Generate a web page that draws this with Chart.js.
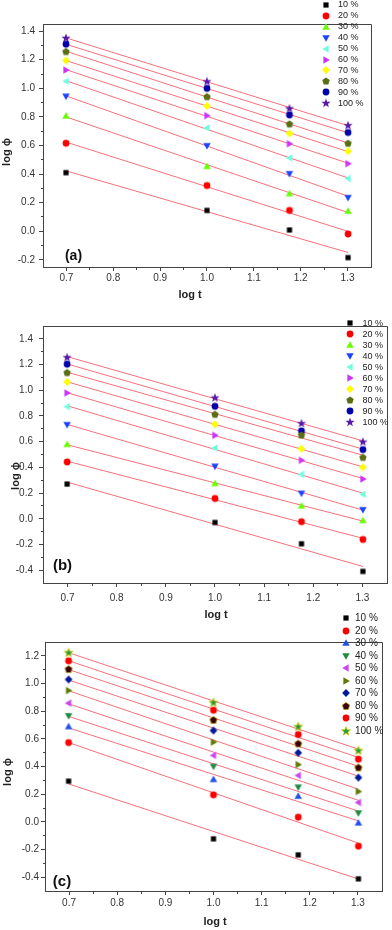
<!DOCTYPE html>
<html><head><meta charset="utf-8">
<script src="https://cdn.jsdelivr.net/npm/chart.js@4.4.1/dist/chart.umd.min.js"></script>
<style>
html,body{margin:0;padding:0;background:#fff;width:392px;height:930px;overflow:hidden;position:relative;}
canvas{position:absolute;left:0;}
</style></head><body>
<canvas id="ca" width="392" height="305" style="top:0px"></canvas>
<canvas id="cb" width="392" height="325" style="top:300px"></canvas>
<canvas id="cc" width="392" height="330" style="top:600px"></canvas>
<script>
// ---------- data ----------
const logT = [0.699, 1.000, 1.176, 1.301];
const seriesLabels = ['10 %','20 %','30 %','40 %','50 %','60 %','70 %','80 %','90 %','100 %'];
const valuesA = [
  [0.410, 0.146, 0.009, -0.184],
  [0.616, 0.320, 0.146, -0.019],
  [0.807, 0.454, 0.264, 0.141],
  [0.944, 0.598, 0.402, 0.235],
  [1.049, 0.723, 0.513, 0.369],
  [1.128, 0.809, 0.612, 0.473],
  [1.195, 0.877, 0.684, 0.560],
  [1.258, 0.942, 0.751, 0.616],
  [1.309, 1.000, 0.814, 0.691],
  [1.353, 1.049, 0.860, 0.742]
];
const valuesB = [
  [0.270, -0.029, -0.195, -0.410],
  [0.442, 0.158, -0.023, -0.161],
  [0.579, 0.275, 0.101, -0.013],
  [0.732, 0.408, 0.197, 0.070],
  [0.873, 0.551, 0.345, 0.190],
  [0.979, 0.649, 0.455, 0.309],
  [1.065, 0.735, 0.545, 0.400],
  [1.138, 0.813, 0.652, 0.478],
  [1.203, 0.875, 0.683, 0.538],
  [1.257, 0.943, 0.743, 0.600]
];
const valuesC = [
  [0.294, -0.123, -0.239, -0.412],
  [0.573, 0.195, 0.034, -0.176],
  [0.689, 0.307, 0.186, -0.007],
  [0.766, 0.400, 0.250, 0.063],
  [0.858, 0.480, 0.335, 0.140],
  [0.949, 0.576, 0.414, 0.219],
  [1.029, 0.660, 0.499, 0.320],
  [1.104, 0.737, 0.566, 0.393],
  [1.164, 0.807, 0.631, 0.453],
  [1.224, 0.863, 0.689, 0.516]
];
const xTicks = [0.7, 0.8, 0.9, 1.0, 1.1, 1.2, 1.3];
const xMinor = [0.75, 0.85, 0.95, 1.05, 1.15, 1.25];
const yTicksA = [-0.2, 0.0, 0.2, 0.4, 0.6, 0.8, 1.0, 1.2, 1.4];
const yTicksB = [-0.4, -0.2, 0.0, 0.2, 0.4, 0.6, 0.8, 1.0, 1.2, 1.4];
const yTicksC = [-0.4, -0.2, 0.0, 0.2, 0.4, 0.6, 0.8, 1.0, 1.2];
const yMinorA = [-0.1, 0.1, 0.3, 0.5, 0.7, 0.9, 1.1, 1.3];
const yMinorB = [-0.3, -0.1, 0.1, 0.3, 0.5, 0.7, 0.9, 1.1, 1.3];
const yMinorC = [-0.3, -0.1, 0.1, 0.3, 0.5, 0.7, 0.9, 1.1];

// ---------- styles ----------
const FAM = '"Liberation Sans", Arial, sans-serif';
const shapes = ['square','circle','up','down','left','right','diamond','pentagon','circle','star'];
const colorsAB = ['#000000','#ff0000','#66ff00','#1a44ff','#70ffe0','#cc33ff','#ffff00','#5a6e14','#0000aa','#5a1aa8'];
const shapesC = ['square','circle','up','down','left','right','diamond','pentagon','circle','star'];
const colorsC = ['#000000','#ff0000','#2050e8','#1f8a44','#cc44ee','#5f7a00','#001a99','#3a0008','#ff0000','#2a9a3a'];
const strokeC = [null,null,null,null,null,null,null,'#b8a000',null,'#d8d000'];
const FIT_COLOR = '#f6707c';

function poly(g, cx, cy, n, r, startDeg) {
  for (let i = 0; i < n; i++) {
    const a = (startDeg + i * 360 / n) * Math.PI / 180;
    const px = cx + r * Math.cos(a), py = cy + r * Math.sin(a);
    if (i === 0) g.moveTo(px, py); else g.lineTo(px, py);
  }
  g.closePath();
}
function starPath(g, cx, cy, ro, ri) {
  for (let i = 0; i < 10; i++) {
    const r = i % 2 ? ri : ro;
    const a = (-90 + i * 36) * Math.PI / 180;
    const px = cx + r * Math.cos(a), py = cy + r * Math.sin(a);
    if (i === 0) g.moveTo(px, py); else g.lineTo(px, py);
  }
  g.closePath();
}
function markerCanvas(shape, fill, stroke) {
  const s = 12, c = document.createElement('canvas');
  c.width = s; c.height = s;
  const g = c.getContext('2d'), cx = 6, cy = 6;
  g.fillStyle = fill; g.beginPath();
  switch (shape) {
    case 'square': g.rect(cx - 2.6, cy - 2.6, 5.2, 5.2); break;
    case 'circle': g.arc(cx, cy, 3.4, 0, Math.PI * 2); break;
    case 'up': poly(g, cx, cy + 0.5, 3, 4.3, -90); break;
    case 'down': poly(g, cx, cy - 0.5, 3, 4.3, 90); break;
    case 'left': poly(g, cx + 0.5, cy, 3, 4.3, 180); break;
    case 'right': poly(g, cx - 0.5, cy, 3, 4.3, 0); break;
    case 'diamond': poly(g, cx, cy, 4, 3.9, -90); break;
    case 'pentagon': poly(g, cx, cy + 0.3, 5, 3.9, -90); break;
    case 'star': starPath(g, cx, cy + 0.3, 4.8, 2.0); break;
  }
  g.fill();
  if (stroke) { g.strokeStyle = stroke; g.lineWidth = 0.7; g.stroke(); }
  return c;
}

function fitLine(ys) {
  const n = logT.length;
  const mx = logT.reduce((s, v) => s + v, 0) / n;
  const my = ys.reduce((s, v) => s + v, 0) / n;
  let sxy = 0, sxx = 0;
  for (let i = 0; i < n; i++) { sxy += (logT[i] - mx) * (ys[i] - my); sxx += (logT[i] - mx) ** 2; }
  const b = sxy / sxx, a = my - b * mx;
  const x0 = logT[0], x1 = logT[n - 1];
  return [{x: x0, y: a + b * x0}, {x: x1, y: a + b * x1}];
}

function alignPx(p) { return Math.round(p - 0.5) + 0.5; }

function makePanel(cfg) {
  const canvas = document.getElementById(cfg.id);
  const H = canvas.height;
  const markers = cfg.values.map((_, i) => markerCanvas(cfg.shapes[i], cfg.colors[i], cfg.strokes ? cfg.strokes[i] : null));
  const datasets = [];
  cfg.values.forEach((ys, i) => {
    datasets.push({
      label: seriesLabels[i] + ' fit', data: fitLine(ys), showLine: true,
      borderColor: FIT_COLOR, borderWidth: 1, pointRadius: 0, order: 2
    });
  });
  cfg.values.forEach((ys, i) => {
    datasets.push({
      label: seriesLabels[i], data: logT.map((x, k) => ({x, y: ys[k]})), showLine: false,
      pointStyle: markers[i], pointRadius: 3, pointHoverRadius: 3, order: 1
    });
  });
  const A = cfg.area; // relative to canvas
  const plugin = {
    id: 'deco_' + cfg.id,
    afterDraw(chart) {
      const ctx = chart.ctx, a = chart.chartArea, xs = chart.scales.x, ys = chart.scales.y;
      ctx.save();
      ctx.strokeStyle = '#444'; ctx.lineWidth = 1;
      const L = alignPx(a.left), R = alignPx(a.right), T = alignPx(a.top), B = alignPx(a.bottom);
      ctx.beginPath();
      ctx.moveTo(L, T); ctx.lineTo(R, T); ctx.lineTo(R, B);
      // minor ticks
      xMinorList.forEach(v => { const p = alignPx(xs.getPixelForValue(v)); ctx.moveTo(p, B); ctx.lineTo(p, B + 2.5); });
      cfg.yMinor.forEach(v => { const p = alignPx(ys.getPixelForValue(v)); ctx.moveTo(L, p); ctx.lineTo(L - 2.5, p); });
      ctx.stroke();
      // panel label
      ctx.fillStyle = '#111';
      ctx.font = 'bold ' + cfg.labelSize + 'px ' + FAM;
      ctx.textAlign = 'center'; ctx.textBaseline = 'middle';
      ctx.fillText(cfg.label, cfg.labelPos[0], cfg.labelPos[1]);
      // axis titles
      ctx.font = 'bold 11px ' + FAM;
      ctx.fillStyle = '#222';
      ctx.fillText('log t', cfg.xTitle[0], cfg.xTitle[1]);
      ctx.save();
      ctx.translate(cfg.yTitle[0], cfg.yTitle[1]);
      ctx.rotate(-Math.PI / 2);
      ctx.fillText('log \u03D5', 0, 0);
      ctx.restore();
      // legend
      const lg = cfg.legend;
      ctx.font = lg.size + 'px ' + FAM;
      ctx.textAlign = 'left'; ctx.textBaseline = 'middle';
      ctx.fillStyle = '#222';
      seriesLabels.forEach((t, i) => {
        const y = lg.y0 + i * lg.dy;
        ctx.drawImage(markers[i], Math.round(lg.mx - 6), Math.round(y - 6));
        ctx.fillText(t, lg.tx, y);
      });
      ctx.restore();
    }
  };
  const xMinorList = xMinor;
  const tickFont = {size: 10, family: FAM};
  new Chart(canvas, {
    type: 'scatter',
    data: {datasets},
    options: {
      responsive: false, animation: false, devicePixelRatio: 1,
      layout: {padding: {left: 0, right: 392 - A.right, top: A.top, bottom: 0}},
      plugins: {legend: {display: false}, tooltip: {enabled: false}},
      events: [],
      scales: {
        x: {
          type: 'linear', min: 0.65, max: 1.35,
          afterBuildTicks: s => { s.ticks = xTicks.map(v => ({value: v})); },
          afterFit: s => { s.height = H - A.bottom; },
          ticks: {callback: v => Number(v).toFixed(1), font: tickFont, color: '#333', padding: cfg.xPad, maxRotation: 0, autoSkip: false},
          grid: {drawOnChartArea: false, drawTicks: true, tickLength: 4, color: '#444', tickColor: '#444'},
          border: {display: true, color: '#444', width: 1}
        },
        y: {
          type: 'linear', min: cfg.yMin, max: cfg.yMax,
          afterBuildTicks: s => { s.ticks = cfg.yTicks.map(v => ({value: v})); },
          afterFit: s => { s.width = A.left; },
          ticks: {callback: v => Number(v).toFixed(1), font: tickFont, color: '#333', padding: cfg.yPad, autoSkip: false},
          grid: {drawOnChartArea: false, drawTicks: true, tickLength: 4, color: '#444', tickColor: '#444'},
          border: {display: true, color: '#444', width: 1}
        }
      }
    },
    plugins: [plugin]
  });
}

makePanel({
  id: 'ca', values: valuesA, shapes: shapes, colors: colorsAB,
  area: {left: 43, right: 371, top: 24, bottom: 267},
  yMin: -0.25, yMax: 1.45, yTicks: yTicksA, yMinor: yMinorA, xPad: 1, yPad: 4,
  label: '(a)', labelSize: 14, labelPos: [73.5, 256.5],
  xTitle: [190, 295], yTitle: [7, 152],
  legend: {mx: 325.5, tx: 338, y0: 5, dy: 10.9, size: 9}
});
makePanel({
  id: 'cb', values: valuesB, shapes: shapes, colors: colorsAB,
  area: {left: 43, right: 387, top: 26, bottom: 283},
  yMin: -0.5, yMax: 1.5, yTicks: yTicksB, yMinor: yMinorB, xPad: 5, yPad: 6,
  label: '(b)', labelSize: 15, labelPos: [62.5, 266],
  xTitle: [216, 315], yTitle: [16, 176],
  legend: {mx: 350, tx: 362.5, y0: 23.3, dy: 11, size: 9}
});
makePanel({
  id: 'cc', values: valuesC, shapes: shapesC, colors: colorsC, strokes: strokeC,
  area: {left: 45, right: 382, top: 42, bottom: 291},
  yMin: -0.5, yMax: 1.3, yTicks: yTicksC, yMinor: yMinorC, xPad: 2, yPad: 2,
  label: '(c)', labelSize: 15, labelPos: [62, 282],
  xTitle: [215, 321.7], yTitle: [8, 172],
  legend: {mx: 345.5, tx: 355, y0: 18.3, dy: 12.5, size: 10}
});
</script>
</body></html>
